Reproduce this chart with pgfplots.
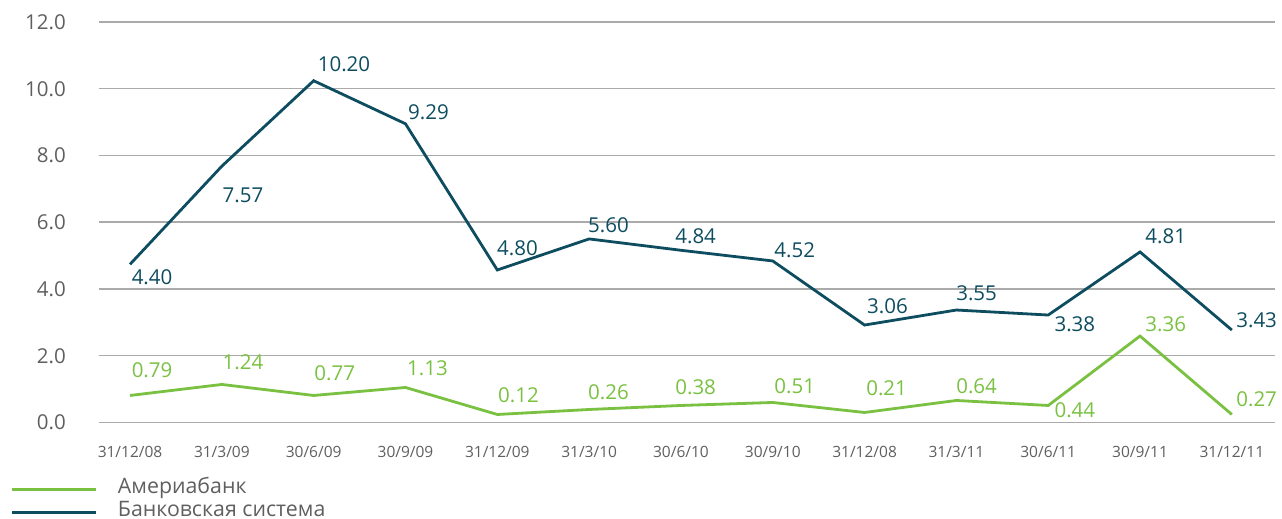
\documentclass[border=0pt]{standalone}
\usepackage{fontspec}
\setmainfont{Open Sans}
\usepackage{pgfplots}
\pgfplotsset{compat=1.18}
\definecolor{bankdark}{RGB}{13,77,95}
\definecolor{amgreen}{RGB}{122,193,66}
\definecolor{gridgray}{RGB}{170,170,170}
\definecolor{ticktext}{RGB}{95,95,95}

\begin{document}
\begin{tikzpicture}
\useasboundingbox (0,0) rectangle (1282pt,519pt);
\begin{axis}[
  scale only axis,
  width=1176pt, height=400.5pt,
  at={(99pt,96.5pt)}, anchor=south west,
  xmin=-0.338, xmax=12.47,
  ymin=0, ymax=12,
  axis line style={draw=none},
  clip=false,
  ymajorgrids,
  grid style={gridgray, line width=1.5pt},
  ytick={0,2,4,6,8,10,12},
  xtick={0,...,12},
  xticklabels={31/12/08,31/3/09,30/6/09,30/9/09,31/12/09,31/3/10,30/6/10,30/9/10,31/12/08,31/3/11,30/6/11,30/9/11,31/12/11},
  major tick length=0pt,
  tick style={draw=none},
  /pgf/number format/assume math mode=true,
  yticklabel={\pgfmathprintnumber[fixed,fixed zerofill,precision=1]{\tick}},
  yticklabel style={font=\fontsize{20.5}{24}\selectfont, text=ticktext, inner sep=0pt, anchor=east, xshift=-33pt},
  xticklabel style={font=\fontsize{15.5}{18}\selectfont, text=ticktext, inner sep=0pt, anchor=north, yshift=-23.5pt},
  legend style={at={(axis description cs:-0.0757,-0.1386)}, anchor=north west,
    draw=none, fill=none, inner sep=0pt, column sep=21pt, row sep=0pt,
    font=\fontsize{21.3}{23}\selectfont, text=ticktext,
    nodes={inner sep=0pt, text height=15pt, text depth=8pt}},
  legend cell align=left,
  legend image code/.code={\draw[#1] (0pt,0pt) -- (84pt,0pt);},
]
\addplot[amgreen, line width=2.8pt] coordinates {
  (0,0.81) (1,1.14) (2,0.81) (3,1.05) (4,0.24) (5,0.39) (6,0.51)
  (7,0.60) (8,0.30) (9,0.66) (10,0.51) (11,2.59) (12,0.24)
};
\addlegendentry{Америабанк}
\addplot[bankdark, line width=2.8pt] coordinates {
  (0,4.74) (1,7.68) (2,10.24) (3,8.95) (4,4.57) (5,5.50) (6,5.16)
  (7,4.84) (8,2.92) (9,3.37) (10,3.22) (11,5.11) (12,2.77)
};
\addlegendentry{Банковская система}

% data labels
\begin{scope}[font=\fontsize{20.5}{24}\selectfont, text=bankdark]
\node at (axis cs:0.24,4.35) {4.40};
\node at (axis cs:1.23,6.81) {7.57};
\node at (axis cs:2.33,10.74) {10.20};
\node at (axis cs:3.25,9.30) {9.29};
\node at (axis cs:4.22,5.22) {4.80};
\node at (axis cs:5.21,5.91) {5.60};
\node at (axis cs:6.16,5.58) {4.84};
\node at (axis cs:7.24,5.16) {4.52};
\node at (axis cs:8.25,3.48) {3.06};
\node at (axis cs:9.22,3.87) {3.55};
\node at (axis cs:10.29,2.94) {3.38};
\node at (axis cs:11.28,5.58) {4.81};
\node at (axis cs:12.27,3.06) {3.43};
\end{scope}
\begin{scope}[font=\fontsize{20.5}{24}\selectfont, text=amgreen]
\node at (axis cs:0.24,1.56) {0.79};
\node at (axis cs:1.23,1.80) {1.24};
\node at (axis cs:2.23,1.47) {0.77};
\node at (axis cs:3.24,1.62) {1.13};
\node at (axis cs:4.23,0.81) {0.12};
\node at (axis cs:5.21,0.90) {0.26};
\node at (axis cs:6.16,1.05) {0.38};
\node at (axis cs:7.24,1.08) {0.51};
\node at (axis cs:8.24,1.02) {0.21};
\node at (axis cs:9.22,1.08) {0.64};
\node at (axis cs:10.29,0.36) {0.44};
\node at (axis cs:11.28,2.94) {3.36};
\node at (axis cs:12.27,0.69) {0.27};
\end{scope}
\end{axis}
\end{tikzpicture}
\end{document}
